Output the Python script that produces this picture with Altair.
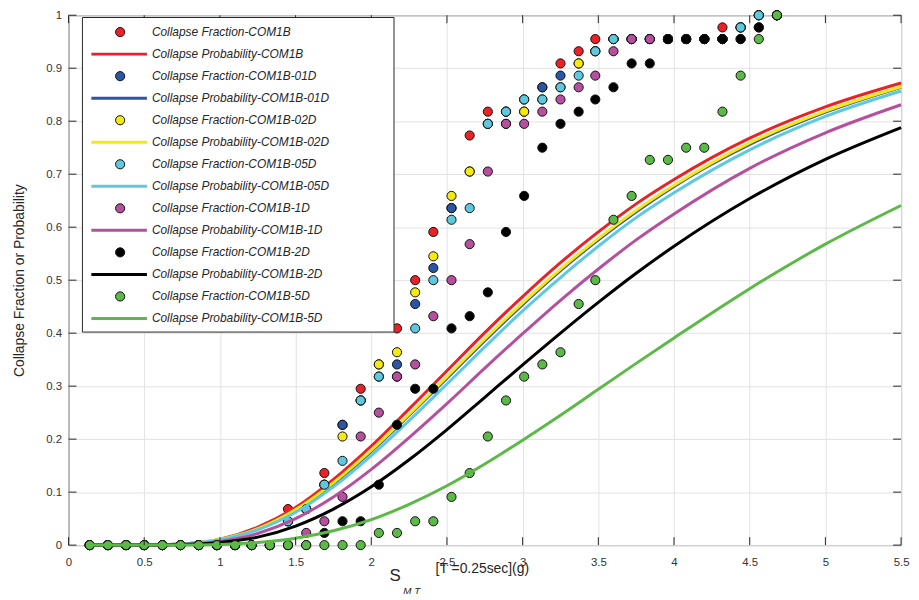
import altair as alt
import pandas as pd

# ---------------- data ----------------
x_levels = [0.14, 0.26, 0.38, 0.50, 0.62, 0.74, 0.86, 0.98, 1.10, 1.21, 1.33, 1.45, 1.57,
            1.69, 1.81, 1.93, 2.05, 2.17, 2.29, 2.41, 2.53, 2.65, 2.77, 2.89, 3.01, 3.13,
            3.25, 3.37, 3.48, 3.60, 3.72, 3.84, 3.96, 4.08, 4.20, 4.32, 4.44, 4.56, 4.68]

frac_com1b = [0, 0, 0, 0, 0, 0, 0, 0, 0, 0, 0,
              0.068, 0.068, 0.136, 0.227, 0.295, 0.341, 0.409, 0.5, 0.591, 0.636,
              0.773, 0.818, 0.818, 0.841, 0.864, 0.909, 0.932, 0.955,
              0.955, 0.955, 0.955, 0.955, 0.955, 0.955, 0.977, 0.977, 1, 1]
frac_01d = [0, 0, 0, 0, 0, 0, 0, 0, 0, 0, 0,
            0.045, 0.068, 0.114, 0.227, 0.273, 0.318, 0.341, 0.455, 0.523, 0.636,
            0.705, 0.795, 0.795, 0.818, 0.864, 0.886, 0.909, 0.932,
            0.955, 0.955, 0.955, 0.955, 0.955, 0.955, 0.955, 0.977, 1, 1]
frac_02d = [0, 0, 0, 0, 0, 0, 0, 0, 0, 0, 0,
            0.045, 0.068, 0.114, 0.205, 0.273, 0.341, 0.364, 0.477, 0.545, 0.659,
            0.705, 0.795, 0.818, 0.818, 0.841, 0.864, 0.909, 0.932,
            0.955, 0.955, 0.955, 0.955, 0.955, 0.955, 0.955, 0.977, 1, 1]
frac_05d = [0, 0, 0, 0, 0, 0, 0, 0, 0, 0, 0,
            0.045, 0.068, 0.114, 0.159, 0.273, 0.318, 0.318, 0.409, 0.5, 0.614,
            0.636, 0.795, 0.818, 0.841, 0.841, 0.864, 0.886, 0.932,
            0.955, 0.955, 0.955, 0.955, 0.955, 0.955, 0.955, 0.977, 1, 1]
frac_1d = [0, 0, 0, 0, 0, 0, 0, 0, 0, 0, 0, 0,
           0.023, 0.045, 0.091, 0.205, 0.25, 0.318, 0.341, 0.432, 0.5, 0.568,
           0.705, 0.795, 0.795, 0.818, 0.841, 0.864, 0.886, 0.932,
           0.955, 0.955, 0.955, 0.955, 0.955, 0.955, 0.955, 0.977, 1]
frac_2d = [0, 0, 0, 0, 0, 0, 0, 0, 0, 0, 0, 0, 0,
           0.023, 0.045, 0.045, 0.114, 0.227, 0.295, 0.295, 0.409, 0.432, 0.477,
           0.591, 0.659, 0.75, 0.795, 0.818, 0.841, 0.864, 0.909, 0.909,
           0.955, 0.955, 0.955, 0.955, 0.955, 0.977, 1]
frac_5d = [0, 0, 0, 0, 0, 0, 0, 0, 0, 0, 0, 0, 0, 0, 0, 0,
           0.023, 0.023, 0.045, 0.045, 0.091, 0.136, 0.205, 0.273, 0.318, 0.341,
           0.364, 0.455, 0.5, 0.614, 0.659, 0.727, 0.727, 0.75, 0.75, 0.818, 0.886, 0.955, 1]

curve_x = [0.14, 0.5, 0.75, 1.0, 1.25, 1.5, 1.75, 2.0, 2.25, 2.5, 2.75, 3.0, 3.25, 3.5,
           3.75, 4.0, 4.5, 5.0, 5.5]
prob_com1b = [0, 0.0001, 0.002, 0.011, 0.034, 0.071, 0.124, 0.187, 0.257, 0.329, 0.401,
              0.469, 0.533, 0.591, 0.644, 0.690, 0.768, 0.827, 0.872]
prob_01d = [0, 0.0001, 0.002, 0.010, 0.031, 0.066, 0.116, 0.177, 0.245, 0.315, 0.386,
            0.454, 0.518, 0.576, 0.629, 0.677, 0.756, 0.817, 0.864]
prob_02d = [0, 0.0001, 0.002, 0.011, 0.031, 0.067, 0.118, 0.179, 0.247, 0.318, 0.389,
            0.457, 0.521, 0.579, 0.632, 0.679, 0.759, 0.819, 0.865]
prob_05d = [0, 0.0001, 0.002, 0.010, 0.029, 0.062, 0.110, 0.169, 0.235, 0.304, 0.374,
            0.442, 0.505, 0.564, 0.618, 0.665, 0.746, 0.809, 0.857]
prob_1d = [0, 0, 0.001, 0.007, 0.022, 0.050, 0.091, 0.143, 0.203, 0.267, 0.334,
           0.399, 0.462, 0.521, 0.576, 0.625, 0.711, 0.778, 0.831]
prob_2d = [0, 0, 0.001, 0.005, 0.015, 0.036, 0.068, 0.110, 0.161, 0.218, 0.279,
           0.340, 0.400, 0.458, 0.513, 0.564, 0.654, 0.728, 0.788]
prob_5d = [0, 0, 0, 0.001, 0.005, 0.013, 0.027, 0.048, 0.077, 0.112, 0.153,
           0.198, 0.245, 0.294, 0.343, 0.391, 0.484, 0.568, 0.641]

series_names = ["COM1B", "COM1B-01D", "COM1B-02D", "COM1B-05D", "COM1B-1D", "COM1B-2D", "COM1B-5D"]
series_colors = ["#ec2127", "#2b55a5", "#f5e90f", "#5ec9de", "#b54f9e", "#000000", "#5cb947"]
fractions = [frac_com1b, frac_01d, frac_02d, frac_05d, frac_1d, frac_2d, frac_5d]
probabilities = [prob_com1b, prob_01d, prob_02d, prob_05d, prob_1d, prob_2d, prob_5d]

x_ticks = [0, 0.5, 1, 1.5, 2, 2.5, 3, 3.5, 4, 4.5, 5, 5.5]
y_ticks = [0, 0.1, 0.2, 0.3, 0.4, 0.5, 0.6, 0.7, 0.8, 0.9, 1]

# ---------------- chart ----------------
W, H = 839, 534
TOP = 13  # page y of the plot's top edge
FONT = "Liberation Sans"
AX = "#262626"

xs = alt.Scale(domain=[0, 5.5], nice=False, zero=False)
ys = alt.Scale(domain=[0, 1], nice=False, zero=False)
x_axis = alt.Axis(values=x_ticks, format="~g", grid=True, ticks=False, domain=False,
                  labelPadding=12, labelFlush=False, labelOverlap=False, title=None)
y_axis = alt.Axis(values=y_ticks, format="~g", grid=True, ticks=False, domain=False,
                  labelPadding=7, labelFlush=False, labelOverlap=False,
                  title="Collapse Fraction or Probability", titleFontSize=14,
                  titleFont=FONT, titleFontWeight="normal", titleColor=AX,
                  titleX=-49, titleY=H / 2, titleAngle=270, titleAlign="center",
                  titleBaseline="middle")
X = alt.X("x:Q", scale=xs, axis=x_axis)
Y = alt.Y("y:Q", scale=ys, axis=y_axis)

layers = []
for name, col, fr, pr in zip(series_names, series_colors, fractions, probabilities):
    pts = pd.DataFrame({"x": x_levels, "y": fr})
    crv = pd.DataFrame({"x": curve_x, "y": pr})
    layers.append(
        alt.Chart(pts).mark_circle(size=85, fill=col, stroke="#111111", strokeWidth=1,
                                   opacity=1).encode(x=X, y=Y)
    )
    layers.append(
        alt.Chart(crv).mark_line(color=col, strokeWidth=3, interpolate="monotone").encode(x=X, y=Y)
    )

# inward ticks on all four sides
xt = pd.DataFrame({"x": x_ticks})
yt = pd.DataFrame({"y": y_ticks})
layers.append(alt.Chart(xt).mark_rule(color=AX, strokeWidth=1).encode(
    x=X, y=alt.value(H), y2=alt.value(H - 8)))
layers.append(alt.Chart(xt).mark_rule(color=AX, strokeWidth=1).encode(
    x=X, y=alt.value(0), y2=alt.value(8)))
layers.append(alt.Chart(yt).mark_rule(color=AX, strokeWidth=1).encode(
    y=Y, x=alt.value(0), x2=alt.value(8)))
layers.append(alt.Chart(yt).mark_rule(color=AX, strokeWidth=1).encode(
    y=Y, x=alt.value(W), x2=alt.value(W - 8)))

# legend
leg_labels, leg_kind, leg_colors = [], [], []
for name, col in zip(series_names, series_colors):
    leg_labels += ["Collapse Fraction-" + name, "Collapse Probability-" + name]
    leg_kind += ["frac", "prob"]
    leg_colors += [col, col]
leg = pd.DataFrame({"label": leg_labels, "kind": leg_kind, "row": list(range(len(leg_labels)))})
leg_color = alt.Color("label:N", scale=alt.Scale(domain=leg_labels, range=leg_colors), legend=None)
leg_y = alt.Y("py:Q", scale=None)

layers.append(alt.Chart(pd.DataFrame({"a": [0]})).mark_rect(
    fill="white", stroke=AX, strokeWidth=1).encode(
    x=alt.value(14), x2=alt.value(328), y=alt.value(15.3 - TOP), y2=alt.value(332.3 - TOP)))
leg_base = alt.Chart(leg).transform_calculate(py=f"{30 - TOP} + 22.2 * datum.row")
layers.append(leg_base.transform_filter("datum.kind == 'frac'").mark_circle(
    size=85, stroke="#111111", strokeWidth=1, opacity=1).encode(
    x=alt.value(52), y=leg_y, color=leg_color))
layers.append(leg_base.transform_filter("datum.kind == 'prob'").mark_rule(
    strokeWidth=3).encode(x=alt.value(23), x2=alt.value(79), y=leg_y, color=leg_color))
layers.append(leg_base.mark_text(align="left", baseline="middle", fontStyle="italic",
                                 fontSize=12, font=FONT, color=AX).encode(
    x=alt.value(84), y=leg_y, text="label:N"))

# x-axis title pieces
layers.append(alt.Chart(pd.DataFrame({"a": [0]})).mark_text(
    text="S", fontSize=17, font=FONT, color=AX, align="center", baseline="middle").encode(
    x=alt.value(329), y=alt.value(578 - TOP)))
layers.append(alt.Chart(pd.DataFrame({"a": [0]})).mark_text(
    text="M T", fontSize=10, fontStyle="italic", font=FONT, color=AX, align="center",
    baseline="middle").encode(x=alt.value(346), y=alt.value(593 - TOP)))
layers.append(alt.Chart(pd.DataFrame({"a": [0]})).mark_text(
    text="[T =0.25sec](g)", fontSize=14, font=FONT, color=AX, align="center",
    baseline="middle").encode(x=alt.value(417), y=alt.value(571 - TOP)))

chart = alt.layer(*layers).properties(
    width=W, height=H,
    autosize=alt.AutoSizeParams(type="none"),
    padding={"left": 61, "top": 5, "right": 10, "bottom": 48},
    background="white",
).configure_view(stroke=AX, strokeWidth=1).configure_axis(
    labelFont=FONT, labelFontSize=11.5, labelColor="#333333",
    gridColor="#e2e2e2", gridWidth=1,
)

chart.save("out.html", embed_options={"renderer": "svg", "actions": False})
